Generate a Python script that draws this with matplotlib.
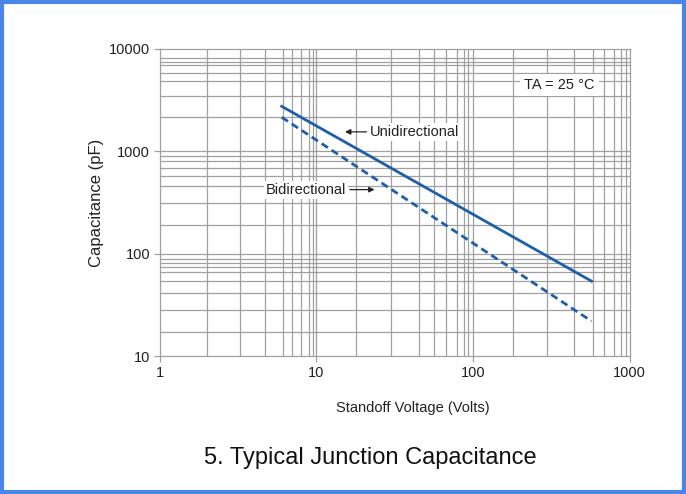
import matplotlib
matplotlib.use("Agg")
import matplotlib.pyplot as plt
from matplotlib.patches import Rectangle

plt.rcParams['font.family'] = ['Liberation Sans', 'DejaVu Sans']

# donnees
volts_uni = [6, 570]
cap_uni = [2750, 54]
volts_bi = [6, 570]
cap_bi = [2150, 22]

x_ticks = [1, 10, 100, 1000]
x_tick_labels = ['1', '10', '100', '1000']
y_ticks = [10, 100, 1000, 10000]
y_tick_labels = ['10', '100', '1000', '10000']

# grille (espacement irregulier comme sur l'original)
x_grid = [2, 3.26, 4.71, 6.08, 6.98, 7.98, 8.93, 9.53, 10,
          18, 30, 45.4, 56.6, 67, 78.7, 87.7, 93.3, 100,
          181, 295, 441, 579, 684, 791, 875, 944]
y_grid = [17.1, 28.2, 41.1, 54.1, 66.1, 74.3, 81.3, 88.7, 100,
          193, 310, 454, 578, 682, 803, 902, 1000,
          2150, 3500, 4840, 5800, 6900, 7460, 8180]

line_col = '#1f5ea8'
grid_col = '#a0a0a0'

fig = plt.figure(figsize=(6.86, 4.94), dpi=100)
ax = fig.add_axes([0.233, 0.279, 0.685, 0.622])
ax.set_xscale('log')
ax.set_yscale('log')
ax.set_xlim(1, 1000)
ax.set_ylim(10, 10000)

for v in x_grid:
    ax.axvline(v, color=grid_col, lw=0.9, zorder=1)
for v in y_grid:
    ax.axhline(v, color=grid_col, lw=0.9, zorder=1)

ax.plot(volts_uni, cap_uni, color=line_col, lw=2.0, zorder=3)
ax.plot(volts_bi, cap_bi, color=line_col, lw=2.0, dashes=(2.7, 1.6), zorder=3)

for s in ax.spines.values():
    s.set_color(grid_col)
    s.set_linewidth(0.9)

ax.set_xticks(x_ticks)
ax.set_xticklabels(x_tick_labels)
ax.set_yticks(y_ticks)
ax.set_yticklabels(y_tick_labels)
ax.minorticks_off()
ax.tick_params(axis='both', which='major', length=4, width=0.9, color=grid_col,
               labelsize=10.5, labelcolor='#222222', pad=3)

ax.set_xlabel('Standoff Voltage (Volts)', fontsize=10.5, color='#222222')
ax.xaxis.set_label_coords(0.538, -0.145)
ax.set_ylabel('Capacitance (pF)', fontsize=12, color='#222222', va='center')
ax.yaxis.set_label_coords(-0.134, 0.5)

box = dict(facecolor='white', edgecolor='none', pad=1.5)
arrow = dict(arrowstyle='-|>', color='#222222', lw=0.9, mutation_scale=8, shrinkA=1, shrinkB=0)
ax.annotate('Unidirectional', xy=(0.394, 0.730), xycoords='axes fraction',
            xytext=(0.447, 0.730), textcoords='axes fraction',
            ha='left', va='center', fontsize=10.5, color='#222222', bbox=box,
            arrowprops=arrow, zorder=4)
ax.annotate('Bidirectional', xy=(0.457, 0.542), xycoords='axes fraction',
            xytext=(0.397, 0.542), textcoords='axes fraction',
            ha='right', va='center', fontsize=10.5, color='#222222', bbox=box,
            arrowprops=arrow, zorder=4)
ax.text(0.851, 0.882, 'TA = 25 °C', transform=ax.transAxes, ha='center', va='center',
        fontsize=10.5, color='#222222', bbox=dict(facecolor='white', edgecolor='none', pad=3),
        zorder=4)

fig.text(0.54, 0.072, '5. Typical Junction Capacitance', ha='center', va='center',
         fontsize=17, color='#111111')

# cadre bleu
fig.patches.append(Rectangle((0.003, 0.005), 0.994, 0.99, transform=fig.transFigure,
                             fill=False, edgecolor='#4a86e8', lw=3))

fig.savefig('out.png', dpi=100)
